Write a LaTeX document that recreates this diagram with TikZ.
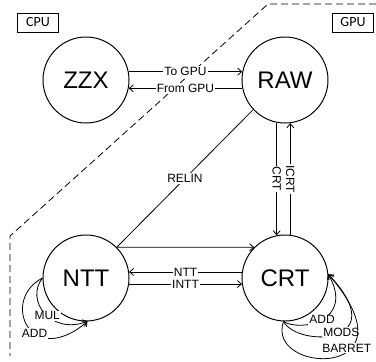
\documentclass[tikz,border=0pt]{standalone}
\usepackage{fontspec}
\setmainfont{Liberation Sans}
\newfontfamily\carlitofont{Carlito}
\usetikzlibrary{arrows.meta}
\begin{document}
\begin{tikzpicture}[x=1pt,y=-1pt,
  st/.style={circle,draw,line width=1pt,minimum size=86pt,inner sep=0pt,font=\fontsize{24}{24}\selectfont},
  tag/.style={draw,line width=0.8pt,minimum width=41pt,minimum height=19pt,inner sep=0pt,font=\carlitofont\fontsize{14}{14}\selectfont},
  arr/.style={line width=0.8pt,-{Straight Barb[length=4pt,width=7pt]}},
  lbl/.style={fill=white,inner sep=1pt,font=\fontsize{12}{12}\selectfont},
  bound/.style={dash pattern=on 7pt off 4pt,line width=0.8pt}]
\useasboundingbox (0,0) rectangle (376,362);

% region boundary
\draw[bound] (376,4) -- (268,4) -- (10,236) -- (10,356);

% tags
\node[tag] (cpu) at (38,22.5) {CPU};
\node[tag] (gpu) at (353,22.5) {GPU};

% states
\node[st] (zzx) at (86,80) {ZZX};
\node[st] (raw) at (285,80) {RAW};
\node[st] (ntt) at (86,278) {NTT};
\node[st] (crt) at (285,278) {CRT};

% ZZX <-> RAW
\draw[arr] (zzx.11) -- node[lbl]{To GPU} (raw.169);
\draw[arr] (raw.191) -- node[lbl]{From GPU} (zzx.349);

% RAW <-> CRT
\draw[arr] (raw.259) -- node[lbl,rotate=-90]{CRT} (crt.101);
\draw[arr] (crt.83) -- node[lbl,rotate=-90]{ICRT} (raw.277);

% RELIN
\draw[arr] (raw.223) -- node[lbl]{RELIN} (ntt.45) -- (crt.135);

% NTT <-> CRT
\draw[arr] (crt.172) -- node[lbl]{NTT} (ntt.8);
\draw[arr] (ntt.352) -- node[lbl]{INTT} (crt.188);

% NTT self loops
\draw[arr] (ntt.180) .. controls (25,300) and (50,335) .. node[lbl,pos=0.55]{MUL} (ntt.272);
\draw[arr] (ntt.180) .. controls (0,300) and (30,370) .. node[lbl,pos=0.6]{ADD} (ntt.272);

% CRT self loops
\draw[arr] (crt.268) .. controls (300,332) and (355,322) .. node[lbl,pos=0.5]{ADD} (crt.5);
\draw[arr] (crt.268) .. controls (298,348) and (395,345) .. node[lbl,pos=0.55]{MODS} (crt.5);
\draw[arr] (crt.268) .. controls (265,375) and (420,380) .. node[lbl,pos=0.6,yshift=4pt]{BARRET} (crt.5);
\end{tikzpicture}
\end{document}
